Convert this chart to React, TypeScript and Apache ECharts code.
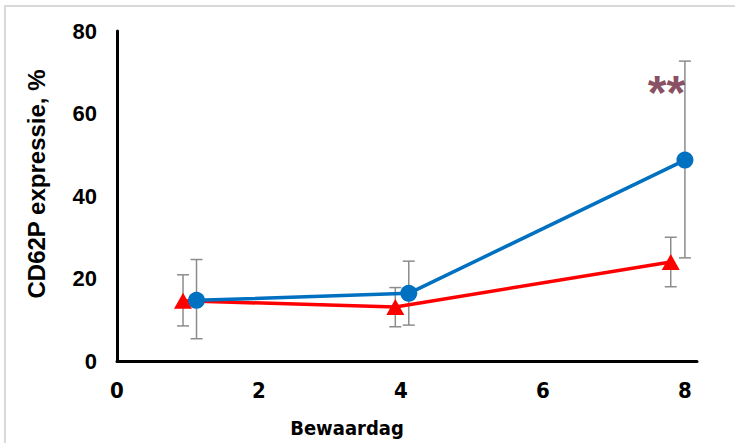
import React, { useEffect, useRef } from "react";
import * as echarts from "echarts";

const blueX = [1.12, 4.11, 8.0];
const blueY = [14.7, 16.4, 48.7];
const blueLow = [5.4, 8.7, 25.0];
const blueHigh = [24.6, 24.2, 72.7];

const redX = [0.93, 3.92, 7.8];
const redY = [14.6, 13.1, 24.0];
const redLow = [8.5, 8.3, 18.0];
const redHigh = [20.9, 17.8, 30.0];

const xTicks = [0, 2, 4, 6, 8];
const yTicks = [0, 20, 40, 60, 80];
const signif = { x: 7.74, y: 65.1, text: "**" };

const narrow = "'Liberation Sans Narrow', 'DejaVu Sans Condensed', sans-serif";

export default function App() {
  const ref = useRef<HTMLDivElement>(null);
  useEffect(() => {
    document.body.style.margin = "0";
    const chart = echarts.init(ref.current!, null, { renderer: "svg" });
    const errRender = (params: any, api: any) => {
      const x = api.value(0);
      const lo = api.coord([x, api.value(1)]);
      const hi = api.coord([x, api.value(2)]);
      const w = 6;
      const style = { stroke: "#8c8c8c", lineWidth: 1.5 };
      return {
        type: "group",
        children: [
          { type: "line", shape: { x1: lo[0], y1: lo[1], x2: hi[0], y2: hi[1] }, style },
          { type: "line", shape: { x1: lo[0] - w, y1: lo[1], x2: lo[0] + w, y2: lo[1] }, style },
          { type: "line", shape: { x1: hi[0] - w, y1: hi[1], x2: hi[0] + w, y2: hi[1] }, style },
        ],
      };
    };
    chart.setOption({
      animation: false,
      backgroundColor: "#ffffff",
      grid: { left: 117, right: 38, top: 31, bottom: 82 },
      xAxis: {
        type: "value",
        min: 0,
        max: 8.17,
        interval: 2,
        axisLine: { show: true, lineStyle: { color: "#000", width: 3 } },
        axisTick: { show: false },
        splitLine: { show: false },
        axisLabel: {
          margin: 18,
          fontSize: 22,
          fontWeight: "bold",
          fontFamily: narrow,
          color: "#000",
          formatter: (v: number) => (xTicks.includes(v) ? String(v) : ""),
        },
      },
      yAxis: {
        type: "value",
        min: 0,
        max: 80,
        interval: 20,
        axisLine: { show: true, lineStyle: { color: "#000", width: 3 } },
        axisTick: { show: false },
        splitLine: { show: false },
        axisLabel: {
          margin: 20,
          fontSize: 22,
          fontWeight: "bold",
          fontFamily: "Liberation Sans",
          color: "#000",
          formatter: (v: number) => (yTicks.includes(v) ? String(v) : ""),
        },
      },
      graphic: [
        {
          type: "polyline",
          shape: { points: [[5, 443], [5, 6], [735, 6]] },
          style: { stroke: "#d9d9d9", lineWidth: 2, fill: null },
          silent: true,
        },
        {
          type: "text",
          x: 36,
          y: 184,
          rotation: Math.PI / 2,
          style: {
            text: "CD62P expressie, %",
            fontSize: 24,
            fontWeight: "bold",
            fontFamily: "Liberation Sans",
            fill: "#000",
            align: "center",
            verticalAlign: "middle",
          },
        },
        {
          type: "text",
          x: 347,
          y: 428,
          style: {
            text: "Bewaardag",
            fontSize: 20,
            fontWeight: "bold",
            fontFamily: narrow,
            fill: "#000",
            align: "center",
            verticalAlign: "middle",
          },
        },
      ],
      series: [
        {
          type: "custom",
          name: "redErr",
          renderItem: errRender,
          data: redX.map((x, i) => [x, redLow[i], redHigh[i]]),
          z: 1,
        },
        {
          type: "custom",
          name: "blueErr",
          renderItem: errRender,
          data: blueX.map((x, i) => [x, blueLow[i], blueHigh[i]]),
          z: 1,
        },
        {
          type: "line",
          name: "red",
          data: redX.map((x, i) => [x, redY[i]]),
          symbol: "triangle",
          symbolSize: [18, 16],
          lineStyle: { color: "#ff0000", width: 3.5 },
          itemStyle: { color: "#ff0000" },
          z: 3,
        },
        {
          type: "line",
          name: "blue",
          data: blueX.map((x, i) => [x, blueY[i]]),
          symbol: "circle",
          symbolSize: 17,
          lineStyle: { color: "#0070c0", width: 3.5 },
          itemStyle: { color: "#0070c0" },
          z: 4,
        },
        {
          type: "scatter",
          name: "signif",
          data: [[signif.x, signif.y]],
          symbolSize: 0,
          label: {
            show: true,
            position: "inside",
            formatter: () => signif.text,
            fontSize: 48,
            fontWeight: "bold",
            fontFamily: "Liberation Sans",
            color: "#6a1f38",
          },
          z: 5,
        },
      ],
    });
    return () => chart.dispose();
  }, []);
  return (
    <div
      ref={ref}
      style={{ position: "fixed", left: 0, top: 0, width: 735, height: 443 }}
    />
  );
}
